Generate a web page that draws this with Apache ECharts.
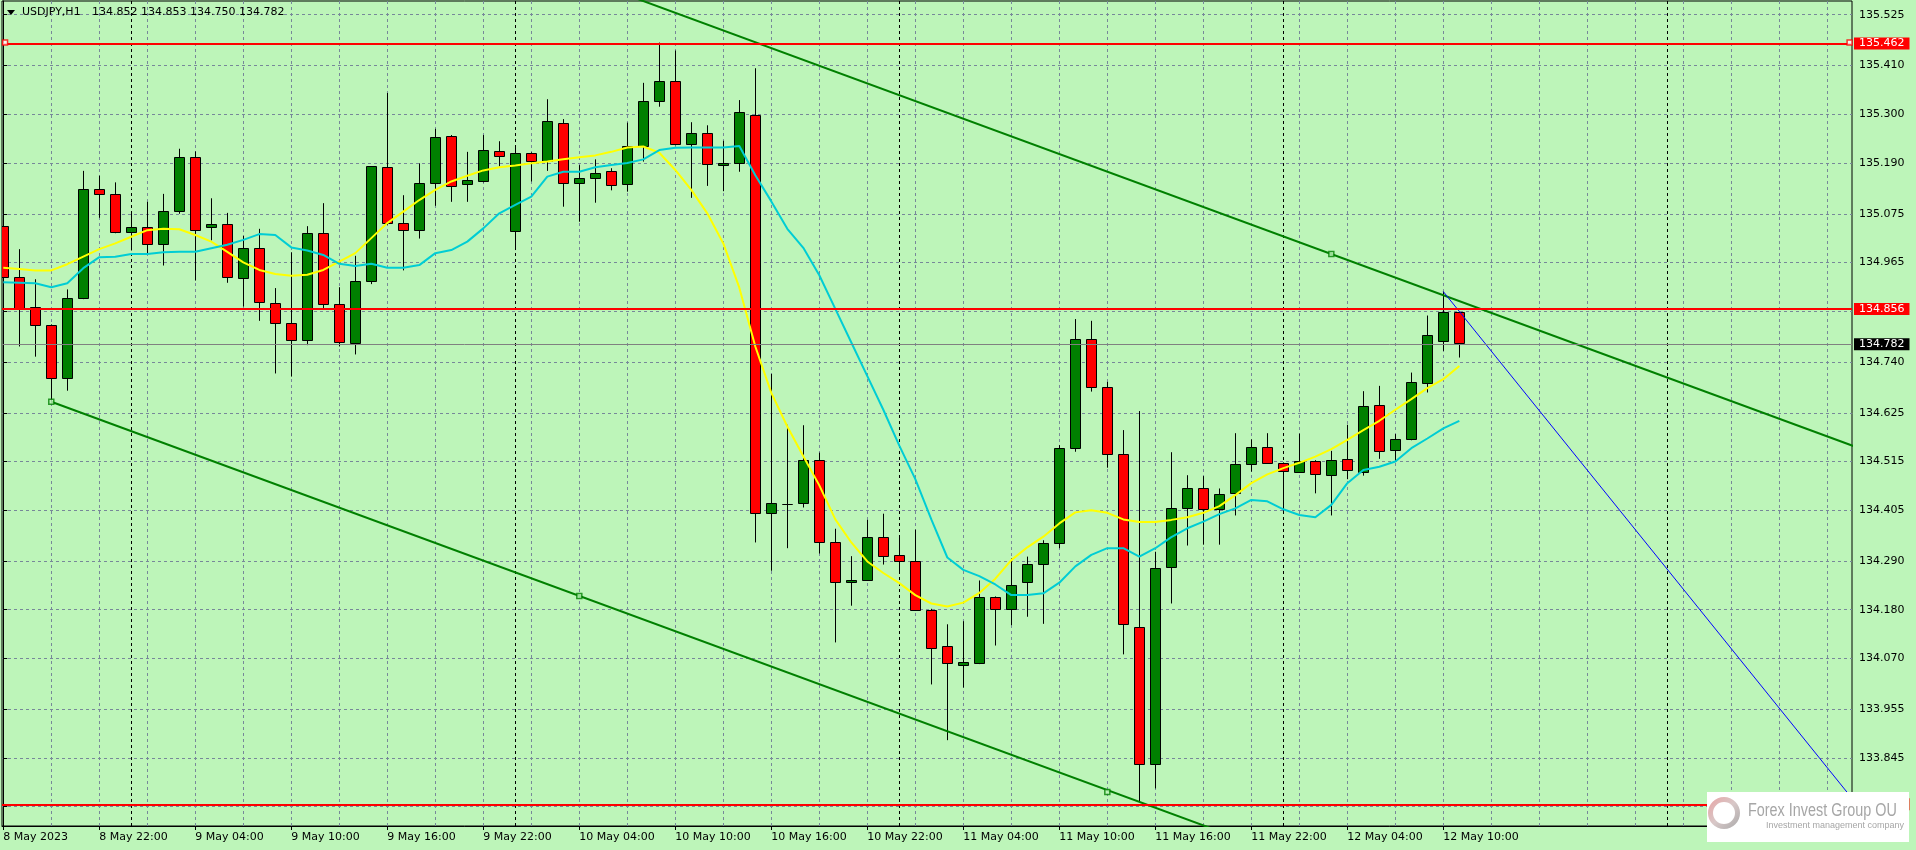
<!DOCTYPE html>
<html><head><meta charset="utf-8">
<script src="https://cdn.jsdelivr.net/npm/echarts@6/dist/echarts.min.js"></script>
<style>html,body{margin:0;padding:0;background:#bdf5b9;}#c{width:1916px;height:850px;}</style>
</head><body><div id="c"></div>
<script>
// ---------------- data ----------------
const symbolName = 'USDJPY,H1';
const headerValues = ['134.852', '134.853', '134.750', '134.782'];
// hourly bars, 8 May 2023 16:00 ... 12 May 2023 11:00 (index = hour)
const open  = [135.048,134.932,134.864,134.823,134.703,134.884,135.130,135.119,135.033,135.044,135.007,135.081,135.203,135.045,135.052,134.929,134.997,134.873,134.828,134.790,135.032,134.870,134.782,134.924,135.180,135.054,135.039,135.144,135.250,135.142,135.148,135.218,135.036,135.212,135.195,135.280,135.144,135.157,135.171,135.142,135.229,135.331,135.376,135.232,135.257,135.185,135.189,135.298,134.399,134.419,134.421,134.518,134.332,134.242,134.248,134.344,134.303,134.291,134.180,134.097,134.055,134.059,134.208,134.181,134.243,134.283,134.330,134.545,134.791,134.683,134.531,134.140,133.831,134.276,134.409,134.454,134.407,134.443,134.509,134.547,134.511,134.491,134.515,134.484,134.520,134.492,134.642,134.542,134.565,134.692,134.787,134.852];
const high  = [135.054,134.995,134.927,134.825,134.904,135.172,135.161,135.146,135.078,135.102,135.120,135.222,135.216,135.110,135.077,135.025,135.041,134.907,134.988,135.047,135.099,134.909,134.980,135.183,135.348,135.117,135.189,135.267,135.253,135.215,135.253,135.239,135.228,135.214,135.334,135.289,135.185,135.198,135.178,135.281,135.371,135.462,135.444,135.282,135.275,135.240,135.332,135.404,134.713,134.598,134.597,134.535,134.363,134.301,134.383,134.397,134.346,134.361,134.182,134.147,134.154,134.246,134.210,134.296,134.300,134.337,134.552,134.837,134.833,134.695,134.586,134.629,134.311,134.536,134.484,134.482,134.454,134.579,134.565,134.579,134.513,134.578,134.518,134.539,134.598,134.674,134.686,134.577,134.716,134.845,134.899,134.853];
const low   = [134.884,134.775,134.752,134.650,134.675,134.882,135.066,135.031,134.992,134.986,134.958,135.075,134.924,135.015,134.919,134.865,134.833,134.714,134.707,134.778,134.860,134.775,134.757,134.916,135.050,134.947,135.019,135.093,135.102,135.102,135.146,135.182,134.993,135.148,135.172,135.091,135.057,135.100,135.128,135.125,135.193,135.317,135.230,135.111,135.138,135.126,135.170,134.332,134.268,134.319,134.411,134.307,134.106,134.189,134.246,134.282,134.262,134.178,134.011,133.885,134.004,134.057,134.099,134.145,134.164,134.148,134.319,134.537,134.673,134.501,134.079,133.745,133.776,134.194,134.325,134.327,134.327,134.393,134.492,134.510,134.399,134.490,134.443,134.393,134.475,134.483,134.521,134.515,134.563,134.671,134.765,134.750];
const close = [134.932,134.860,134.823,134.703,134.884,135.130,135.119,135.033,135.044,135.007,135.081,135.203,135.039,135.052,134.932,134.997,134.876,134.828,134.790,135.032,134.870,134.785,134.924,135.182,135.054,135.039,135.144,135.248,135.138,135.151,135.220,135.205,135.212,135.195,135.285,135.144,135.157,135.168,135.139,135.229,135.331,135.376,135.232,135.257,135.187,135.189,135.304,134.399,134.421,134.418,134.518,134.332,134.242,134.246,134.344,134.301,134.291,134.180,134.094,134.059,134.061,134.208,134.182,134.235,134.283,134.330,134.545,134.791,134.683,134.531,134.148,133.831,134.274,134.409,134.454,134.407,134.441,134.509,134.547,134.511,134.494,134.515,134.486,134.518,134.495,134.641,134.539,134.565,134.694,134.800,134.852,134.782];
const maYellow = [134.953,134.950,134.947,134.947,134.961,134.978,134.995,135.008,135.023,135.038,135.041,135.040,135.027,135.012,134.989,134.965,134.948,134.939,134.935,134.937,134.948,134.967,134.986,135.020,135.054,135.080,135.106,135.129,135.148,135.161,135.173,135.180,135.184,135.189,135.193,135.198,135.203,135.207,135.215,135.225,135.227,135.213,135.174,135.129,135.076,135.008,134.908,134.775,134.670,134.594,134.527,134.461,134.384,134.332,134.289,134.263,134.240,134.213,134.194,134.187,134.196,134.218,134.250,134.292,134.321,134.345,134.375,134.400,134.405,134.399,134.384,134.378,134.378,134.383,134.389,134.399,134.414,134.439,134.466,134.486,134.500,134.512,134.526,134.543,134.564,134.586,134.607,134.632,134.656,134.681,134.701,134.731];
const maCyan = [134.920,134.919,134.918,134.909,134.918,134.952,134.977,134.978,134.984,134.984,134.988,134.989,134.989,134.997,135.005,135.016,135.029,135.027,134.999,134.992,134.982,134.962,134.957,134.962,134.953,134.953,134.959,134.986,134.993,135.012,135.042,135.076,135.095,135.114,135.159,135.170,135.170,135.180,135.185,135.190,135.198,135.219,135.224,135.225,135.225,135.225,135.228,135.162,135.103,135.041,134.998,134.936,134.860,134.784,134.708,134.632,134.551,134.475,134.384,134.298,134.270,134.256,134.237,134.213,134.213,134.217,134.241,134.278,134.304,134.319,134.319,134.300,134.319,134.344,134.364,134.379,134.396,134.409,134.428,134.425,134.407,134.394,134.389,134.417,134.466,134.496,134.503,134.515,134.545,134.567,134.590,134.607];
const yTickLabels = ['135.525','135.410','135.300','135.190','135.075','134.965','134.855','134.740','134.625','134.515','134.405','134.290','134.180','134.070','133.955','133.845','133.735'];
const xTickLabels = ['8 May 2023','8 May 22:00','9 May 04:00','9 May 10:00','9 May 16:00','9 May 22:00','10 May 04:00','10 May 10:00','10 May 16:00','10 May 22:00','11 May 04:00','11 May 10:00','11 May 16:00','11 May 22:00','12 May 04:00','12 May 10:00'];
const daySeparators = [8, 32, 56, 80, 104];          // bar index of 00:00
const levels = [135.462, 134.856, 133.735];           // red horizontal lines
const bidPrice = 134.782;
const channelLower = [[3, 134.650], [78, 133.6525]];
const channelUpper = [[38, 135.5825], [116, 134.545]];
const channelAnchors = [[3, 134.650], [36, 134.211], [69, 133.768], [83, 134.984]];
const blueLine = [[90, 134.899], [117, 133.688]];

// ---------------- chart ----------------
const BG = '#bdf5b9';
const FONT = 'DejaVu Sans';
const candles = open.map((o, i) => [i, o, close[i], low[i], high[i]]);
const yTicks = yTickLabels.map(Number);
const xLabelBars = xTickLabels.map((s, i) => i * 6);
const gridBars = []; for (let b = 0; b <= 114; b += 3) gridBars.push(b);
const XMIN = -0.08, XMAX = 115.54;

const chart = echarts.init(document.getElementById('c'), null, {renderer: 'canvas', width: 1916, height: 850});
const levelLines = levels.map(v => ({
  yAxis: v,
  lineStyle: {color: '#ff0000', width: 2, type: 'solid'},
  label: {show: true, position: 'end', distance: 2, formatter: v.toFixed(3), backgroundColor: '#ff0000', color: '#ffffff',
          padding: [1, 5, 0, 5], fontFamily: FONT, fontSize: 11}
}));
levelLines.push({
  yAxis: bidPrice,
  lineStyle: {color: '#808080', width: 1, type: 'solid'},
  label: {show: true, position: 'end', distance: 2, formatter: bidPrice.toFixed(3), backgroundColor: '#000000', color: '#ffffff',
          padding: [1, 5, 0, 5], fontFamily: FONT, fontSize: 11}
});

const option = {
  animation: false,
  backgroundColor: BG,
  grid: {left: 2, right: 64, top: 1, bottom: 24, show: true, backgroundColor: BG, borderColor: '#000', borderWidth: 1, outerBoundsMode: 'none', containLabel: false},
  xAxis: [{
    type: 'value', min: XMIN, max: XMAX, position: 'bottom',
    axisLine: {show: true, lineStyle: {color: '#000', width: 1}},
    axisTick: {show: false, customValues: gridBars},
    axisLabel: {show: false},
    splitLine: {show: true, lineStyle: {color: '#778899', width: 1, type: [3, 3]}}
  }, {
    type: 'value', min: XMIN, max: XMAX, position: 'bottom',
    axisLine: {show: false},
    axisTick: {show: true, length: 4, customValues: xLabelBars, lineStyle: {color: '#000'}},
    axisLabel: {show: true, customValues: xLabelBars, align: 'left', margin: 6, color: '#000', fontFamily: FONT, fontSize: 11,
      formatter: v => xTickLabels[xLabelBars.indexOf(Math.round(v))] || ''},
    splitLine: {show: false}
  }],
  yAxis: {
    type: 'value', min: 133.691, max: 135.556, position: 'right', scale: true,
    axisLine: {show: true, lineStyle: {color: '#000', width: 1}},
    axisTick: {show: true, length: 4, inside: false, customValues: yTicks, lineStyle: {color: '#000'}},
    axisLabel: {show: true, customValues: yTicks, margin: 7, color: '#000', fontFamily: FONT, fontSize: 11, align: 'left',
      formatter: v => { const i = yTicks.findIndex(t => Math.abs(t - v) < 1e-6); return i >= 0 ? yTickLabels[i] : ''; }},
    splitLine: {show: true, lineStyle: {color: '#778899', width: 1, type: [3, 3]}}
  },
  series: [
    {
      type: 'custom', name: 'candles', z: 2, clip: true, xAxisIndex: 0,
      data: candles,
      renderItem: function (params, api) {
        const x = api.value(0), o = api.value(1), c = api.value(2), l = api.value(3), h = api.value(4);
        const pO = api.coord([x, o]), pC = api.coord([x, c]), pL = api.coord([x, l]), pH = api.coord([x, h]);
        const R = Math.round(pO[0]);
        const top = Math.min(pO[1], pC[1]), bot = Math.max(pO[1], pC[1]);
        return {type: 'group', children: [
          {type: 'line', shape: {x1: R + 0.5, y1: pH[1], x2: R + 0.5, y2: pL[1]}, style: {stroke: '#000', lineWidth: 1}},
          {type: 'rect', shape: {x: R - 4.5, y: Math.round(top) + 0.5, width: 10, height: Math.max(Math.round(bot) - Math.round(top), 0)},
           style: {fill: c >= o ? '#008000' : '#ff0000', stroke: '#000', lineWidth: 1}}
        ]};
      }
    },
    {
      type: 'line', name: 'MA yellow', z: 3, xAxisIndex: 0, showSymbol: false, symbol: 'none', silent: true,
      data: maYellow.map((v, i) => [i, v]),
      lineStyle: {color: '#ffff00', width: 2},
      markLine: {z: 5, silent: true, symbol: 'none', animation: false, data: levelLines}
    },
    {
      type: 'line', name: 'MA cyan', z: 3, xAxisIndex: 0, showSymbol: false, symbol: 'none', silent: true,
      data: maCyan.map((v, i) => [i, v]),
      lineStyle: {color: '#00cdd4', width: 2},
      markLine: {z: 1, silent: true, symbol: 'none', animation: false, label: {show: false},
        lineStyle: {color: '#000', width: 1, type: [3, 3]},
        data: daySeparators.map(b => ({xAxis: b}))}
    },
    {type: 'line', z: 4, xAxisIndex: 0, showSymbol: false, symbol: 'none', silent: true, clip: true, data: channelLower, lineStyle: {color: '#008000', width: 2}},
    {type: 'line', z: 4, xAxisIndex: 0, showSymbol: false, symbol: 'none', silent: true, clip: true, data: channelUpper, lineStyle: {color: '#008000', width: 2}},
    {type: 'line', z: 4, xAxisIndex: 0, showSymbol: false, symbol: 'none', silent: true, clip: true, data: blueLine, lineStyle: {color: '#0000ff', width: 1}},
    {type: 'scatter', z: 6, xAxisIndex: 0, silent: true, symbol: 'rect', symbolSize: 5, data: channelAnchors,
      itemStyle: {color: BG, borderColor: '#008000', borderWidth: 1.5}},
    {type: 'scatter', z: 6, xAxisIndex: 0, silent: true, symbol: 'rect', symbolSize: 5,
      data: [[XMIN + 0.19, levels[0]], [XMAX - 0.15, levels[0]]],
      itemStyle: {color: '#ffffff', borderColor: '#ff0000', borderWidth: 1.5}}
  ],
  graphic: [
    {type: 'polygon', shape: {points: [[7, 10], [15, 10], [11, 15]]}, style: {fill: '#000'}, z: 100},
    {type: 'text', x: 22, y: 12.5, style: {text: symbolName, fill: '#000', font: '11px "DejaVu Sans"', textVerticalAlign: 'middle'}, z: 100},
    {type: 'text', x: 92, y: 12.5, style: {text: headerValues.join(' '), fill: '#000', font: '11px "DejaVu Sans"', textVerticalAlign: 'middle'}, z: 100},
    {type: 'group', zlevel: 2, z: 100, children: [
      {type: 'rect', zlevel: 2, shape: {x: 1707, y: 792, width: 202, height: 50}, style: {fill: '#ffffff'}},
      {type: 'ring', zlevel: 2, shape: {cx: 1724, cy: 813, r: 16, r0: 11},
        style: {fill: new echarts.graphic.LinearGradient(0, 0, 1, 1, [{offset: 0, color: '#e9a3a3'}, {offset: 0.5, color: '#d8c8c8'}, {offset: 1, color: '#a9a9a9'}])}},
      {type: 'text', zlevel: 2, x: 1748, y: 811, scaleX: 0.8,
        style: {text: 'Forex Invest Group OU', fill: '#a6a6a6', font: '18px "Liberation Sans"', textVerticalAlign: 'middle'}},
      {type: 'text', zlevel: 2, x: 1766, y: 826, style: {text: 'Investment management company', fill: '#a6a6a6', font: '9px "Liberation Sans"', textVerticalAlign: 'middle'}}
    ]}
  ]
};
chart.setOption(option);
</script>
</body></html>
